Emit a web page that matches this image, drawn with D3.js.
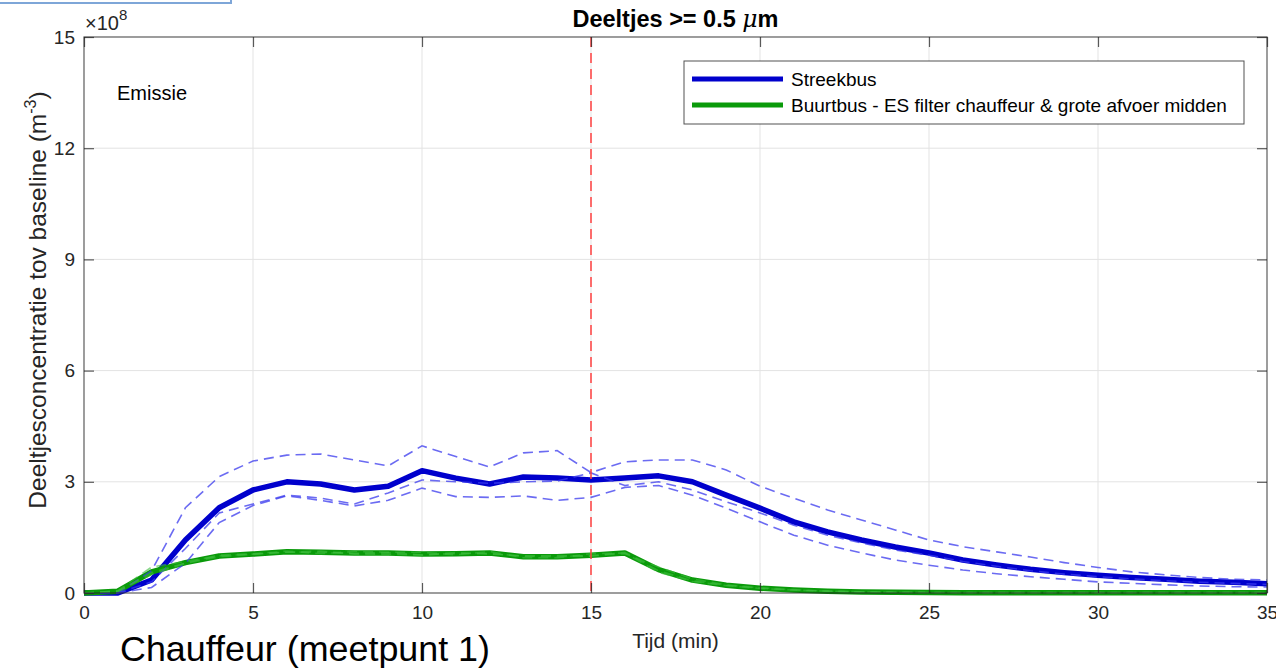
<!DOCTYPE html>
<html lang="nl">
<head>
<meta charset="UTF-8">
<title>Deeltjes >= 0.5 um</title>
<script src="https://d3js.org/d3.v7.min.js"></script>
<style>
  body { margin: 0; background: #fff; }
  svg text { font-family: "Liberation Sans", Arial, sans-serif; }
</style>
</head>
<body>
<svg id="chart" width="1276" height="668"></svg>
<script>
  // time in minutes
  var tijd = d3.range(0, 36);

  // values x 1e8 m^-3
  var streekbusMean = [0, 0, 0.35, 1.43, 2.3, 2.78, 3.0, 2.94, 2.78, 2.88, 3.3, 3.1, 2.94, 3.13, 3.1, 3.05, 3.1, 3.16, 3.0, 2.64,
    2.29, 1.92, 1.65, 1.43, 1.24, 1.08, 0.89, 0.755, 0.64, 0.55, 0.48, 0.42, 0.37, 0.32, 0.29, 0.25];
  var streekbusRun1 = [0, 0, 0.6, 2.3, 3.14, 3.56, 3.72, 3.75, 3.59, 3.43, 3.97, 3.68, 3.4, 3.78, 3.84, 3.25, 3.54, 3.59, 3.59, 3.32,
    2.88, 2.56, 2.24, 1.97, 1.7, 1.43, 1.25, 1.11, 0.97, 0.82, 0.69, 0.57, 0.49, 0.42, 0.37, 0.35];
  var streekbusRun2 = [0, 0, 0.3, 1.2, 2.16, 2.4, 2.64, 2.56, 2.4, 2.7, 3.05, 3.0, 2.96, 3.0, 3.02, 3.24, 2.9, 3.0, 2.78, 2.46,
    2.16, 1.83, 1.56, 1.35, 1.16, 1.02, 0.85, 0.72, 0.6, 0.51, 0.44, 0.38, 0.33, 0.29, 0.26, 0.23];
  var streekbusRun3 = [0, 0, 0.15, 0.8, 1.9, 2.36, 2.62, 2.5, 2.35, 2.5, 2.83, 2.6, 2.58, 2.62, 2.5, 2.58, 2.85, 2.9, 2.64, 2.29,
    1.92, 1.56, 1.29, 1.08, 0.89, 0.75, 0.62, 0.52, 0.44, 0.37, 0.3, 0.26, 0.22, 0.19, 0.17, 0.16];

  var buurtbusMean = [0, 0.05, 0.57, 0.82, 1.0, 1.05, 1.11, 1.1, 1.08, 1.08, 1.05, 1.06, 1.08, 0.98, 0.98, 1.02, 1.08, 0.63, 0.35, 0.21,
    0.13, 0.08, 0.05, 0.03, 0.02, 0.015, 0.01, 0.01, 0.01, 0.01, 0.01, 0.01, 0.01, 0.01, 0.01, 0.01];
  var buurtbusRun1 = [0, 0.06, 0.7, 0.85, 1.0, 1.05, 1.13, 1.06, 1.12, 1.1, 1.1, 1.03, 1.12, 0.95, 0.95, 1.06, 1.08, 0.56, 0.31, 0.2,
    0.12, 0.08, 0.05, 0.03, 0.02, 0.015, 0.01, 0.01, 0.01, 0.01, 0.01, 0.01, 0.01, 0.01, 0.01, 0.01];
  var buurtbusRun2 = [0, 0.04, 0.5, 0.8, 0.98, 1.04, 1.1, 1.13, 1.05, 1.05, 1.02, 1.09, 1.05, 1.0, 1.01, 0.99, 1.1, 0.6, 0.33, 0.21,
    0.13, 0.08, 0.05, 0.03, 0.02, 0.015, 0.01, 0.01, 0.01, 0.01, 0.01, 0.01, 0.01, 0.01, 0.01, 0.01];
  var buurtbusRun3 = [0, 0.05, 0.55, 0.81, 1.02, 1.06, 1.1, 1.1, 1.07, 1.09, 1.03, 1.06, 1.07, 0.99, 0.98, 1.01, 1.06, 0.7, 0.38, 0.22,
    0.14, 0.09, 0.05, 0.03, 0.02, 0.015, 0.01, 0.01, 0.01, 0.01, 0.01, 0.01, 0.01, 0.01, 0.01, 0.01];

  var xTicks = [0, 5, 10, 15, 20, 25, 30, 35];
  var yTicks = [0, 3, 6, 9, 12, 15];
  var legendLabels = ["Streekbus", "Buurtbus - ES filter chauffeur & grote afvoer midden"];
  var emissieTijd = 15;

  var svg = d3.select("#chart");
  var mL = 84, mR = 1267, mT = 37, mB = 593;

  var x = d3.scaleLinear().domain([0, 35]).range([mL, mR]);
  var y = d3.scaleLinear().domain([0, 15]).range([mB, mT]);

  var blue = "#0000cc", green = "#0a9a0a", axisCol = "#262626";

  // slide frame remnant top-left
  svg.append("rect").attr("x", -5).attr("y", -10).attr("width", 236).attr("height", 13)
    .attr("fill", "none").attr("stroke", "#7ea6d8").attr("stroke-width", 2);

  // grid
  svg.append("g").selectAll("line").data(xTicks.slice(1, -1)).enter().append("line")
    .attr("x1", d => x(d)).attr("x2", d => x(d)).attr("y1", mT).attr("y2", mB)
    .attr("stroke", "#e3e3e3").attr("stroke-width", 1);
  svg.append("g").selectAll("line").data(yTicks.slice(1, -1)).enter().append("line")
    .attr("x1", mL).attr("x2", mR).attr("y1", d => y(d)).attr("y2", d => y(d))
    .attr("stroke", "#e3e3e3").attr("stroke-width", 1);

  var line = d3.line().x((d, i) => x(tijd[i])).y(d => y(d));

  // means
  svg.append("path").datum(streekbusMean).attr("d", line).attr("fill", "none")
    .attr("stroke", blue).attr("stroke-width", 5.5).attr("stroke-linejoin", "round");
  svg.append("path").datum(buurtbusMean).attr("d", line).attr("fill", "none")
    .attr("stroke", green).attr("stroke-width", 5.5).attr("stroke-linejoin", "round");

  // runs (dashed), drawn over the means
  [streekbusRun1, streekbusRun2, streekbusRun3].forEach(function (run) {
    svg.append("path").datum(run).attr("d", line).attr("fill", "none")
      .attr("stroke", "#3a3aee").attr("stroke-opacity", 0.75).attr("stroke-width", 1.6)
      .attr("stroke-dasharray", "10,6");
  });
  [buurtbusRun1, buurtbusRun2, buurtbusRun3].forEach(function (run) {
    svg.append("path").datum(run).attr("d", line).attr("fill", "none")
      .attr("stroke", "#3cbc3c").attr("stroke-opacity", 0.6).attr("stroke-width", 1.6)
      .attr("stroke-dasharray", "10,6");
  });

  // emission start marker
  svg.append("line").attr("x1", x(emissieTijd)).attr("x2", x(emissieTijd)).attr("y1", mT).attr("y2", mB)
    .attr("stroke", "#ff4040").attr("stroke-width", 1.5).attr("stroke-dasharray", "10,6");

  // axes box
  svg.append("rect").attr("x", mL).attr("y", mT).attr("width", mR - mL).attr("height", mB - mT)
    .attr("fill", "none").attr("stroke", axisCol).attr("stroke-opacity", 0.75).attr("stroke-width", 1.2);

  var xAxis = svg.append("g").attr("transform", "translate(0," + mB + ")")
    .call(d3.axisBottom(x).tickValues(xTicks).tickSize(-10).tickPadding(13));
  var xAxisTop = svg.append("g").attr("transform", "translate(0," + mT + ")")
    .call(d3.axisTop(x).tickValues(xTicks).tickSize(-10).tickFormat(""));
  var yAxis = svg.append("g").attr("transform", "translate(" + mL + ",0)")
    .call(d3.axisLeft(y).tickValues(yTicks).tickSize(-10).tickPadding(9));
  var yAxisRight = svg.append("g").attr("transform", "translate(" + mR + ",0)")
    .call(d3.axisRight(y).tickValues(yTicks).tickSize(-10).tickFormat(""));

  [xAxis, xAxisTop, yAxis, yAxisRight].forEach(function (g) {
    g.select(".domain").remove();
    g.selectAll(".tick line").attr("stroke", axisCol).attr("stroke-opacity", 0.75).attr("stroke-width", 1.2);
    g.selectAll(".tick text").attr("fill", axisCol).style("font-size", "19px")
      .style("font-family", "'Liberation Sans', Arial, sans-serif");
  });

  // exponent
  var expo = svg.append("text").attr("x", mL + 1).attr("y", 30).attr("fill", axisCol).style("font-size", "20px");
  expo.append("tspan").text("\u00d710");
  expo.append("tspan").attr("dy", -10).style("font-size", "15px").text("8");

  // title
  var title = svg.append("text").attr("x", (mL + mR) / 2).attr("y", 27).attr("text-anchor", "middle")
    .attr("fill", "#000").style("font-size", "23.5px").style("font-weight", "bold");
  title.append("tspan").text("Deeltjes >= 0.5 ");
  title.append("tspan").style("font-style", "italic").style("font-weight", "normal").style("font-family", "'DejaVu Serif', serif").text("\u03bc");
  title.append("tspan").text("m");

  // axis labels
  svg.append("text").attr("x", (mL + mR) / 2).attr("y", 648).attr("text-anchor", "middle")
    .attr("fill", axisCol).style("font-size", "21px").text("Tijd (min)");
  var yl = svg.append("text").attr("transform", "translate(46,300) rotate(-90)")
    .attr("text-anchor", "middle").attr("fill", axisCol).style("font-size", "24.5px");
  yl.append("tspan").text("Deeltjesconcentratie tov baseline (m");
  yl.append("tspan").attr("dy", -10).style("font-size", "16px").text("-3");
  yl.append("tspan").attr("dy", 10).text(")");

  svg.append("text").attr("x", 117).attr("y", 100).attr("fill", "#000").style("font-size", "20px").text("Emissie");

  // legend
  var lg = svg.append("g");
  lg.append("rect").attr("x", 684).attr("y", 61).attr("width", 560).attr("height", 63)
    .attr("fill", "#fff").attr("stroke", axisCol).attr("stroke-opacity", 0.8).attr("stroke-width", 1);
  [blue, green].forEach(function (c, i) {
    var yy = 79 + i * 26;
    lg.append("line").attr("x1", 692).attr("x2", 783).attr("y1", yy).attr("y2", yy)
      .attr("stroke", c).attr("stroke-width", 5);
    lg.append("text").attr("x", 791).attr("y", yy + 7).attr("fill", "#000").style("font-size", "19px").text(legendLabels[i]);
  });

  // slide caption
  svg.append("text").attr("x", 120).attr("y", 661).attr("fill", "#000")
    .attr("textLength", 370).attr("lengthAdjust", "spacingAndGlyphs")
    .style("font-size", "35px")
    .text("Chauffeur (meetpunt 1)");
</script>
</body>
</html>
